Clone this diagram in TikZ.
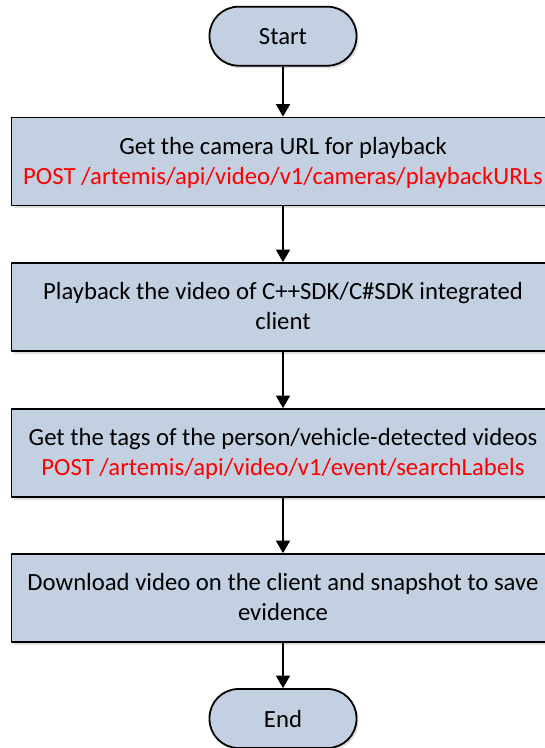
\documentclass[tikz,border=0pt]{standalone}
\usepackage{fontspec}
\setmainfont{Carlito}
\usetikzlibrary{arrows.meta,shadows}
\definecolor{boxblue}{RGB}{195,208,226}
\begin{document}
\begin{tikzpicture}[x=1pt,y=1pt,font=\fontsize{24.7}{30}\selectfont,line join=round,>={Triangle[width=14pt,length=12.5pt]},
	boxshadow/.style={drop shadow={shadow xshift=2pt,shadow yshift=-2.5pt,opacity=.25,fill=black!50}},
	term/.style={draw,line width=1.8pt,fill=boxblue,rounded corners=29pt,minimum width=147pt,minimum height=59pt,inner sep=0pt,boxshadow},
	stepbox/.style={draw,line width=1.8pt,fill=boxblue,minimum width=543pt,minimum height=88pt,inner sep=0pt,align=center,text depth=2pt,boxshadow},
	flow/.style={->,line width=1.8pt}]
		\useasboundingbox (0,0) rectangle (545,-748);
		\clip (0,0) rectangle (545,-748);
		\node[term] (start) at (283,-36.2) {Start};
		\node[stepbox] (b1) at (283,-161.5) {Get the camera URL for playback\\\textcolor{red}{POST /artemis/api/video/v1/cameras/playbackURLs}};
		\node[stepbox] (b2) at (283,-307) {Playback the video of C++SDK/C\#SDK integrated\\client};
		\node[stepbox] (b3) at (283,-453) {Get the tags of the person/vehicle-detected videos\\\textcolor{red}{POST /artemis/api/video/v1/event/searchLabels}};
		\node[stepbox] (b4) at (283,-598) {Download video on the client and snapshot to save\\evidence};
		\node[term] (end) at (283,-718.5) {End};
		\draw[flow] (start) -- (b1);
		\draw[flow] (b1) -- (b2);
		\draw[flow] (b2) -- (b3);
		\draw[flow] (b3) -- (b4);
		\draw[flow] (b4) -- (end);
\end{tikzpicture}
\end{document}
